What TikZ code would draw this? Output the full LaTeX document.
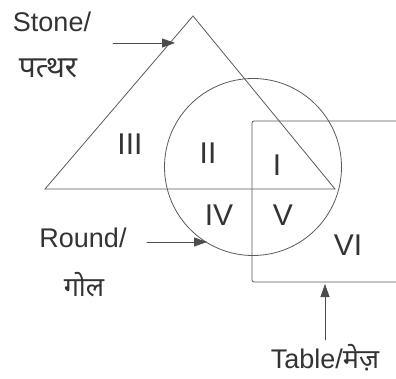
\documentclass[tikz,border=0pt]{standalone}
\usepackage{fontspec}
\setmainfont{Liberation Sans}
\newfontfamily\deva[Script=Devanagari]{Noto Sans}
\usetikzlibrary{arrows.meta}

\begin{document}
\begin{tikzpicture}[x=1pt,y=-1pt,>={Triangle[length=13pt,width=9pt]},line cap=round,
  shape line/.style={draw=black!65,line width=0.8pt},
  pointer/.style={->,draw=black!70,line width=0.8pt},
  label text/.style={text=black!80,font=\fontsize{27}{30}\selectfont,inner sep=0pt},
  region/.style={text=black!80,font=\fontsize{30}{34}\selectfont,inner sep=0pt}]
\useasboundingbox (0,0) rectangle (396,379);
% sets
\draw[shape line] (45,189) -- (193,16) -- (335,189) -- cycle;
\draw[shape line] (253,167) circle (88.5);
\draw[shape line,rounded corners=2pt] (400,121) -- (252,121) -- (252,282) -- (400,282);
% regions
\node[region] (r1) at (277,165) {I};
\node[region] (r2) at (208,153) {II};
\node[region] (r3) at (130,144) {III};
\node[region] (r4) at (219,215) {IV};
\node[region] (r5) at (283,215) {V};
\node[region] (r6) at (348,245) {VI};
% labels
\node[label text] (stone) at (52,22) {Stone/};
\node[label text] (stonehi) at (48,68) {\deva\fontsize{30}{34}\selectfont पत्थर};
\node[label text] (round) at (83,238) {Round/};
\node[label text] (roundhi) at (84,285) {\deva गोल};
\node[label text] (table) at (325,358) {Table/{\deva मेज़}};
% pointers
\coordinate (stonetail) at (113,43);
\coordinate (stonehead) at (175,43);
\coordinate (roundtail) at (147,242);
\coordinate (roundhead) at (207,242);
\coordinate (tabletail) at (325,340);
\coordinate (tablehead) at (325,284);
\draw[pointer] (stonetail) -- (stonehead);
\draw[pointer] (roundtail) -- (roundhead);
\draw[pointer] (tabletail) -- (tablehead);
\end{tikzpicture}
\end{document}
